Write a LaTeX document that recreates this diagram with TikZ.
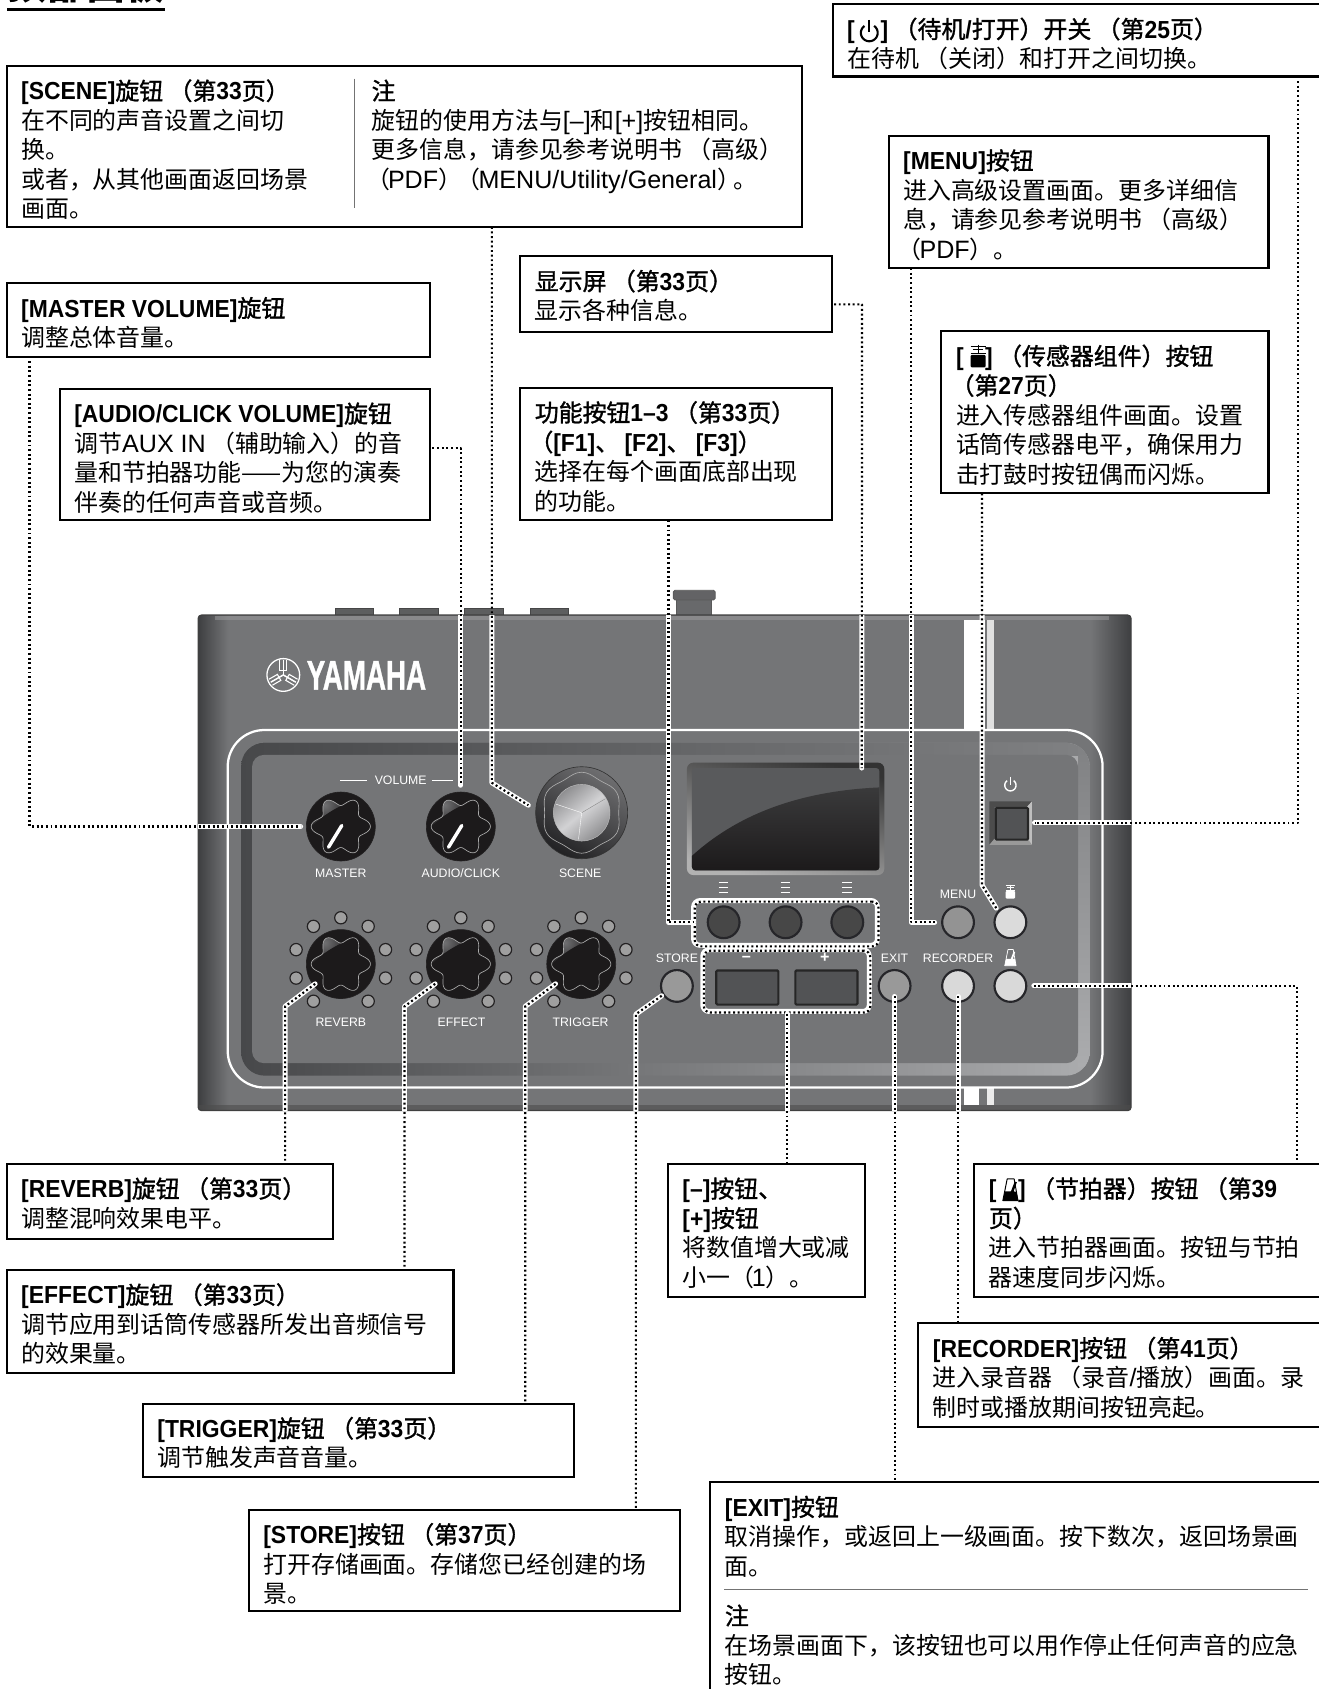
\documentclass[tikz,border=0pt]{standalone}
\usepackage{fontspec}
\usetikzlibrary{calc,shadings}
\setmainfont{Noto Sans CJK SC}
\newfontfamily\hdcjk[FakeBold=1.3]{Noto Sans CJK SC}
\newfontfamily\latr[Scale=1.05]{Liberation Sans}
\newfontfamily\latb[Scale=1.03,FakeStretch=0.93]{Liberation Sans}
\newfontfamily\devf{Liberation Sans}
\newfontfamily\logof[FakeBold=1.2]{Liberation Sans}
\newcommand\zl[1]{{\latr #1}}
\newcommand\zb[1]{{\latb\bfseries #1}}
\newcommand\hd[1]{{\hdcjk #1}}
\newcommand\zs{\rule{0pt}{20pt}}
\newcommand\lp{\hspace*{-5pt}（\hspace*{-2pt}}
\definecolor{bodyg}{HTML}{747577}
\definecolor{bodyd}{HTML}{3E3F41}
\definecolor{knobk}{HTML}{1C1A1B}
\definecolor{rimk}{HTML}{232122}
\definecolor{btnrim}{HTML}{26262A}
\definecolor{bandd}{HTML}{47484A}
\definecolor{bandm}{HTML}{505153}
\definecolor{bandr}{HTML}{808183}
\definecolor{bandl}{HTML}{ABACAE}
\definecolor{scrn}{HTML}{595A5C}
\definecolor{scrd}{HTML}{3A3A3B}
\definecolor{knobhi}{HTML}{707072}
\definecolor{ringt}{HTML}{6E6E70}
\definecolor{ringb}{HTML}{222224}
\definecolor{metal}{HTML}{8F8F91}
\definecolor{metalhi}{HTML}{D2D2D4}
\tikzset{
  box/.style={draw=black,line width=1.9pt,anchor=north west,inner sep=0pt,outer sep=0pt,fill=white},
  txt/.style={anchor=north west,inner sep=0pt,outer sep=0pt,align=left,font=\fontsize{22.2}{27.4}\selectfont},
  halo/.style={draw=white,line width=4.6pt,line cap=round,line join=round},
  dots/.style={draw=black,line width=2pt,dash pattern=on 1.8pt off 2.5pt,line cap=butt,line join=round},
  devlabel/.style={text=white,inner sep=0pt,font=\devf\fontsize{11.4}{13}\selectfont},
  knobdisc/.style={circle,fill=knobk,draw=rimk,line width=.6pt,inner sep=0pt,minimum size=64pt},
  btn/.style={circle,draw=btnrim,line width=2pt,inner sep=0pt,minimum size=29.5pt},
  led/.style={circle,fill=#1,draw=rimk,line width=1.1pt,inner sep=0pt,minimum size=11.4pt},
  led/.default=gray!75,
  rectbtn/.style={draw=black!85,line width=2pt,fill=#1,rounded corners=1pt,inner sep=0pt,anchor=north west},
  rectbtn/.default=bandd!75!bodyg,
  rulegray/.style={draw=black!55,line width=1pt},
}
\newcommand\callout[6]{%
  \pgfmathsetmacro\cw{#4-#2}\pgfmathsetmacro\ch{#5-#3}%
  \node[box,minimum width=\cw pt,minimum height=\ch pt] (#1) at (#2,#3) {};
  \node[txt] (#1-t) at ({#2+13.5},{#3+11.4}) {\zs #6};
}
\newcommand\conn[1]{%
  \begin{scope}\clip (184,571) rectangle (1050,1031);\draw[halo] #1;\end{scope}
  \draw[dots] #1;
}
\newcommand\starpath{plot[domain=0:360,samples=121,smooth] ({(23.5+4*cos(6*\x))*cos(\x)},{(23.5+4*cos(6*\x))*sin(\x)})}
\newcommand\knob[3]{%
  \node[knobdisc] (#1) at (#2,#3) {};
  \begin{scope}[shift={(#2,#3)}]
    \begin{scope}
      \clip \starpath;
      \shade[inner color=knobhi,outer color=knobk] (-15,-20) circle (24);
      \fill[knobk] (-30,3) .. controls (-18,-10) and (-2,-20) .. (16,-25) -- (30,30) -- (-30,30) -- cycle;
    \end{scope}
    \draw[gray!65,line width=.6pt] \starpath;
  \end{scope}
}
\newcommand\pointer[2]{\draw[white,line width=3.2pt,line cap=round] ({#1-11.4},{#2+19.2}) -- ({#1+.9},{#2-.9});}
\newcommand\leds[2]{%
  \foreach \a/\b in {0/-43,-25.4/-35,25.4/-35,-41.5/-13.4,41.5/-13.4,-41.5/13,41.5/13,-25.4/34.5,25.4/34.5}
    \node[led] at ({#1+\a},{#2+\b}) {};
}
\newcommand\poweric[4]{% x y scale colour
  \begin{scope}[shift={(#1,#2)},scale=#3]
    \draw[#4,line width=1.3pt*#3] plot[domain=125:415,samples=40,smooth] ({5.2*cos(\x)},{1-5.2*sin(\x)});
    \draw[#4,line width=1.3pt*#3] (0,-7) -- (0,0.5);
  \end{scope}}
\newcommand\sensoric[4]{% x y scale colour
  \begin{scope}[shift={(#1,#2)},scale=#3]
    \draw[#4,line width=1pt*#3] (-7,-9.5) -- (7,-9.5) (-5,-6.3) -- (5,-6.3) (0,-11) -- (0,-2) (-7,-3)--(7,-3);
    \fill[#4,rounded corners=1pt] (-7,-1.5) rectangle (7,10);
  \end{scope}}
\newcommand\metroic[4]{% x y scale colour
  \begin{scope}[shift={(#1,#2)},scale=#3]
    \draw[#4,line width=.9pt*#3,line join=round] (-3,-10) -- (3.5,-10) -- (7,10) -- (-7,10) -- cycle;
    \fill[#4] (-7,10) -- (-5.2,1.5) -- (0.5,1.5) -- (4,-7.5) -- (6,-7) -- (3,1.5) -- (5.7,2) -- (7,10) -- cycle;
  \end{scope}}
\begin{document}
\begin{tikzpicture}[x=1pt,y=-1pt]
\useasboundingbox (0,0) rectangle (1224,1568);
\fill[white] (0,0) rectangle (1224,1568);
% ---- title, cut by the top edge
\node[anchor=base west,inner sep=0pt,font=\bfseries\fontsize{36.5}{40}\selectfont] (title) at (7,-0.6) {顶部面板};
\draw[black,line width=2.6pt] (6.5,8.6) -- (153,8.6);
% ---- device
\fill[bodyg!80!black,draw=bodyg!60!black,line width=.8pt] (311,565) rectangle (347,572);
\fill[bodyg!80!black,draw=bodyg!60!black,line width=.8pt] (371,565) rectangle (407,572);
\fill[bodyg!80!black,draw=bodyg!60!black,line width=.8pt] (431,565) rectangle (467,572);
\fill[bodyg!80!black,draw=bodyg!60!black,line width=.8pt] (492,565) rectangle (528,572);
\fill[bodyg!90!black,draw=black!65,line width=.8pt] (628,553) rectangle (660,572);
\fill[bodyg!85!black,draw=black!65,line width=.8pt,rounded corners=1.5pt] (625,548) rectangle (664,557);
\begin{scope}
  \clip[rounded corners=3pt] (184,571) rectangle (1050,1031);
  \fill[bodyg] (184,571) rectangle (1050,1031);
  \shade[left color=bodyd,right color=bodyg] (184,571) rectangle (212,1031);
  \shade[left color=bodyg,right color=bodyd] (1012,571) rectangle (1050,1031);
  \fill[bodyg!70!white,opacity=.5] (200,572) rectangle (1030,576);
  \fill[black!70,opacity=.6] (184,1026) rectangle (1050,1031);
  % white bars
  \fill[white] (895,575.4) rectangle (914,678);
  \fill[white!88!black] (916,575.4) rectangle (923,678);
  \fill[white] (895,1010) rectangle (909,1026);
  \fill[white!92!black] (916,1010) rectangle (923,1026);
\end{scope}
\draw[black!75,line width=1.1pt,rounded corners=3pt] (184,571) rectangle (1050,1031);
% panel
\draw[white,line width=2.1pt,rounded corners=34pt] (211.4,677.7) rectangle (1023.6,1009.6);
\begin{scope}
  \clip[rounded corners=22pt] (223.8,689.6) rectangle (1011.6,998.6);
  \shade[left color=bandd,right color=bandl] (223.8,689.6) rectangle (1011.6,998.6);
  \shade[left color=bandd,middle color=bandm,right color=bandr] (223.8,689.6) rectangle (1011.6,701);
  \shade[top color=bandr,bottom color=bandl] (1000.8,689.6) rectangle (1011.6,990);
\end{scope}
\fill[bodyg,rounded corners=11pt] (234,700.8) rectangle (1000.8,987);
% labels
\node[devlabel] (lvol) at (372,724.7) {VOLUME};
\draw[white,line width=1.1pt] (315.7,724.7) -- (340.5,724.7) (401,724.7) -- (420.4,724.7);
\node[devlabel] (lmaster) at (316.4,810.4) {MASTER};
\node[devlabel] (laudio) at (427.8,810.4) {AUDIO/CLICK};
\node[devlabel] (lscene) at (538.6,810.4) {SCENE};
\node[devlabel] (lreverb) at (316.4,948.6) {REVERB};
\node[devlabel] (leffect) at (428.4,948.6) {EFFECT};
\node[devlabel] (ltrigger) at (539,948.6) {TRIGGER};
\node[devlabel] (lstore) at (628.4,889.5) {STORE};
\node[devlabel] (lexit) at (830.5,889.5) {EXIT};
\node[devlabel] (lrec) at (889.4,889.5) {RECORDER};
\node[devlabel] (lmenu) at (889.4,830.3) {MENU};
% logo
\begin{scope}[shift={(263,626.6)}]
  \draw[white,line width=1.2pt] (0,0) circle (15.2);
  \foreach \a in {30,150,270} \draw[white,line width=.8pt] (0,0) -- (\a:13);
  \foreach \a in {90,210,330} {
    \begin{scope}[rotate=\a]
      \draw[white,line width=1.3pt] (0,0) -- (13.5,0);
      \draw[white,line width=1pt] (13.5,-3.2) -- (4.5,-3.2) -- (4.5,3.2) -- (13.5,3.2);
    \end{scope}}
\end{scope}
\node[text=white,inner sep=0pt,anchor=center,font=\logof\bfseries\fontsize{38.5}{40}\selectfont,xscale=.67] (logo) at (340.2,627) {YAMAHA};
% knobs
\knob{kmaster}{316.4}{767.3}\pointer{316.4}{767.3}
\knob{kaudio}{427.8}{767.3}\pointer{427.8}{767.3}
\leds{316.4}{895}\leds{427.8}{895}\leds{539.6}{895}
\knob{kreverb}{316.4}{895}
\knob{keffect}{427.8}{895}
\knob{ktrigger}{539.6}{895}
% scene knob
\node[circle,inner sep=0pt,minimum size=85.4pt,draw=black!80,line width=.6pt,shading=axis,top color=ringt,bottom color=ringb,shading angle=-30] (kscene) at (540,754.5) {};
\begin{scope}[shift={(540,754.5)}]
  \draw[gray!65,line width=.6pt] plot[domain=0:360,samples=61,smooth] ({(36+1.6*cos(6*(\x-90)))*cos(\x)},{(36+1.6*cos(6*(\x-90)))*sin(\x)});
  \shade[left color=metal,right color=metal,middle color=metalhi,shading angle=40,draw=gray!50,line width=.4pt] (0,0) circle (26.3);
  \draw[white,line width=.35pt] (0,0) -- (-24,-8) (0,0) -- (-3,25);
  \draw[gray,line width=.3pt] (0,0) -- (22,-13);
\end{scope}
% display
\shade[left color=black!80,right color=gray!60,rounded corners=6pt,shading angle=-15] (637.7,708) rectangle (821,812.4);
\fill[scrn,rounded corners=3pt] (642.4,713) rectangle (816.4,808);
\begin{scope}
  \clip[rounded corners=3pt] (642.4,713) rectangle (816.4,808);
  \shade[top color=scrd,bottom color=knobk] (642.4,794.5) .. controls (675,765) and (727,735) .. (816.4,731) -- (816.4,808) -- (642.4,808) -- cycle;
\end{scope}
\coordinate (scrnpt) at (800,713);
% power button
\fill[black!70] (918.5,743.9) -- (958,743.9) -- (953.5,749) -- (923.4,749) -- (923.4,778.5) -- (918.5,784.3) -- cycle;
\fill[gray!50] (958,743.9) -- (958,784.3) -- (953.5,778.5) -- (953.5,749) -- cycle;
\fill[gray!80] (918.5,784.3) -- (958,784.3) -- (953.5,778.5) -- (923.4,778.5) -- cycle;
\node[rectbtn,minimum width=30pt,minimum height=29.5pt,anchor=north west] (bpower) at (923.4,749) {};
\poweric{938}{728}{1}{white}
\sensoric{938}{828}{.62}{white}
\metroic{938}{889}{.75}{white}
% small marks above function buttons
\foreach \c in {671.8,729.3,786.6} \draw[white,line width=1.1pt] ({\c-4.5},819.5) -- ({\c+4.5},819.5) ({\c-4.5},824) -- ({\c+4.5},824) ({\c-4.5},828.5) -- ({\c+4.5},828.5);
\node[font=\devf\bfseries\fontsize{15}{15}\selectfont,text=white,inner sep=0pt] (lminus) at (692.8,890) {–};
\node[font=\devf\bfseries\fontsize{15}{15}\selectfont,text=white,inner sep=0pt] (lplus) at (765.8,889.5) {+};
% buttons
\node[btn,fill=black!72] (bf1) at (671.8,856.2) {};
\node[btn,fill=black!72] (bf2) at (729.3,856.2) {};
\node[btn,fill=black!72] (bf3) at (786.6,856.2) {};
\node[btn,fill=gray!85] (bmenu) at (889.4,856.2) {};
\node[btn,fill=gray!28] (bsens) at (938,856.2) {};
\node[btn,fill=gray!80] (bstore) at (628.4,915.3) {};
\node[btn,fill=gray!80] (bexit) at (830.5,915.3) {};
\node[btn,fill=gray!30] (brec) at (889.4,915.3) {};
\node[btn,fill=gray!30] (bmet) at (938,915.3) {};
\node[rectbtn,minimum width=57.6pt,minimum height=31.6pt] (bminus) at (664,900) {};
\node[rectbtn,minimum width=57.6pt,minimum height=31.6pt] (bplus) at (737.4,900) {};
% ---- call-outs
\callout{cscene}{6.2}{61.3}{744.5}{210.6}{\hd{\zb{[SCENE]}旋钮 （第\zb{33}页）}\\在不同的声音设置之间切\\换。\\或者，从其他画面返回场景\\画面。}
\node[txt] (cscene-n) at (345,72.7) {\zs\hd{注}\\旋钮的使用方法与\zl{[–]}和\zl{[+]}按钮相同。\\更多信息，请参见参考说明书 （高级）\\\lp\zl{PDF}）\lp\zl{MENU/Utility/General}）\hspace*{-7pt}。};
\draw[rulegray] (329,73) -- (329,193);
\callout{cmaster}{6.2}{263}{399.5}{331}{\hd{\zb{[MASTER VOLUME]}旋钮}\\调整总体音量。}
\callout{caudio}{55.5}{361}{399.5}{483}{\hd{\zb{[AUDIO/CLICK VOLUME]}旋钮}\\调节\zl{AUX IN} （辅助输入）的音\\量和节拍器功能——为您的演奏\\伴奏的任何声音或音频。}
\callout{cdisp}{483}{238}{772.4}{308}{\hd{显示屏 （第\zb{33}页）}\\显示各种信息。}
\callout{cfunc}{483}{360}{772.4}{483}{\hd{功能按钮\zb{1–3} （第\zb{33}页）}\\\hd{\hspace*{-5pt}（\zb{[F1]}、 \zb{[F2]}、 \zb{[F3]}）}\\选择在每个画面底部出现\\的功能。}
\callout{cpower}{773}{4}{1240}{71}{\hd{\zb{[}\hspace*{24pt}\zb{]} （待机\zb{/}打开）开关 （第\zb{25}页）}\\在待机 （关闭）和打开之间切换。}
\poweric{807}{29}{1.5}{black}
\callout{cmenu}{825}{126}{1177.6}{249}{\hd{\zb{[MENU]}按钮}\\进入高级设置画面。更多详细信\\息，请参见参考说明书 （高级）\\\lp\zl{PDF}）。}
\callout{csens}{874}{307.5}{1177.6}{458}{\hd{\zb{[}\hspace*{20pt}\zb{]} （传感器组件）按钮}\\\hd{\hspace*{-5pt}（第\zb{27}页）}\\进入传感器组件画面。设置\\话筒传感器电平，确保用力\\击打鼓时按钮偶而闪烁。}
\sensoric{908}{331}{1}{black}
\callout{creverb}{6.2}{1080.5}{309}{1150}{\hd{\zb{[REVERB]}旋钮 （第\zb{33}页）}\\调整混响效果电平。}
\callout{ceffect}{6.2}{1179}{421}{1275}{\hd{\zb{[EFFECT]}旋钮 （第\zb{33}页）}\\调节应用到话筒传感器所发出音频信号\\的效果量。}
\callout{ctrigger}{132.6}{1303}{533}{1371}{\hd{\zb{[TRIGGER]}旋钮 （第\zb{33}页）}\\调节触发声音音量。}
\callout{cstore}{231}{1401.5}{631.5}{1496}{\hd{\zb{[STORE]}按钮 （第\zb{37}页）}\\打开存储画面。存储您已经创建的场\\景。}
\callout{cpm}{620}{1080.5}{802.6}{1204.5}{\hd{\zb{[–]}按钮、}\\\hd{\zb{[+]}按钮}\\将数值增大或减\\小一 \lp\zl{1}）。}
\callout{cmet}{904.6}{1080.5}{1240}{1204.5}{\hd{\zb{[}\hspace*{20pt}\zb{]} （节拍器）按钮 （第\zb{39}}\\\hd{页）}\\进入节拍器画面。按钮与节拍\\器速度同步闪烁。}
\metroic{938}{1104.5}{1}{black}
\callout{crec}{852.6}{1228.6}{1240}{1324.4}{\hd{\zb{[RECORDER]}按钮 （第\zb{41}页）}\\进入录音器 （录音\zl{/}播放）画面。录\\制时或播放期间按钮亮起。}
\callout{cexit}{659.5}{1376}{1240}{1590}{\hd{\zb{[EXIT]}按钮}\\取消操作，或返回上一级画面。按下数次，返回场景画\\面。}
\draw[rulegray] (672.5,1475.6) -- (1214,1475.6);
\node[txt] (cexit-n) at (673,1488.4) {\zs\hd{注}\\在场景画面下，该按钮也可以用作停止任何声音的应急\\按钮。};
% ---- dotted groups
\draw[halo,rounded corners=6pt] (643.9,836) rectangle (814.6,877.6);
\draw[halo,rounded corners=6pt] (652.4,881.6) rectangle (807,939);
\node[dots,rounded corners=6pt,inner sep=0pt,minimum width=170.7pt,minimum height=41.6pt,anchor=north west] (gfunc) at (643.9,836) {};
\node[dots,rounded corners=6pt,inner sep=0pt,minimum width=154.6pt,minimum height=57.4pt,anchor=north west] (gpm) at (652.4,881.6) {};
% ---- connectors
\coordinate (j1) at (27.4,767.3);
\conn{(cmaster.south -| j1) -- (j1) -- ([xshift=-5pt]kmaster.west)}
\coordinate (j2) at (427.8,416);
\conn{([xshift=2pt]caudio.east |- j2) -- (j2) -- ([yshift=6pt]kaudio.north)}
\coordinate (j3) at (456.6,726.7);
\conn{(cscene.south -| j3) -- (j3) -- ([shift={(-6.5,-1.5)}]kscene.west |- 0,749)}
\coordinate (j4) at (800.3,282.6);
\conn{([xshift=2pt]cdisp.east |- j4) -- (j4) -- (scrnpt)}
\coordinate (j5) at (620.6,856.2);
\conn{(cfunc.south -| j5) -- (j5) -- (gfunc.west |- j5)}
\coordinate (j6) at (846,856.2);
\conn{(cmenu.south -| j6) -- (j6) -- ([xshift=-6pt]bmenu.west)}
\coordinate (j7) at (911.7,821.7);
\conn{(csens.south -| j7) -- (j7) -- ([shift={(-2,-2)}]bsens.north west)}
\coordinate (j8) at (1205,764);
\conn{(cpower.south -| j8) -- (j8) -- ([xshift=5pt]bpower.east |- j8)}
\coordinate (j9) at (1204,915.3);
\conn{([xshift=6pt]bmet.east) -- (j9) -- (cmet.north -| j9)}
\conn{([yshift=6pt]brec.south) -- (crec.north -| brec)}
\conn{([yshift=6pt]bexit.south) -- (cexit.north -| bexit)}
\conn{(gpm.south) -- (cpm.north -| gpm.south)}
\coordinate (j13) at (590.3,941.6);
\conn{([shift={(-3,-2)}]bstore.south west) -- (j13) -- (cstore.north -| j13)}
\coordinate (j14) at (487.6,934.3);
\conn{([shift={(-1,-4.5)}]ktrigger.south west) -- (j14) -- (ctrigger.north -| j14)}
\coordinate (j15) at (375.5,934.3);
\conn{([shift={(-1,-4.5)}]keffect.south west) -- (j15) -- (ceffect.north -| j15)}
\coordinate (j16) at (264.7,934.3);
\conn{([shift={(-1,-4.5)}]kreverb.south west) -- (j16) -- (creverb.north -| j16)}
\end{tikzpicture}
\end{document}
